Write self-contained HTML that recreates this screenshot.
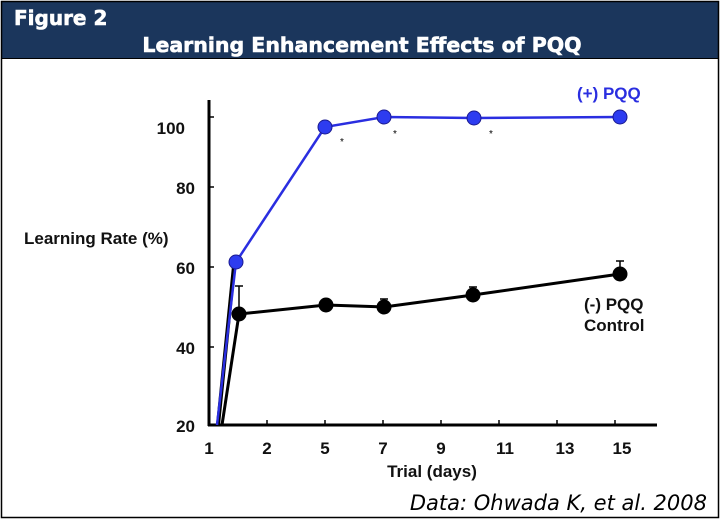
<!DOCTYPE html>
<html><head><style>
html,body{margin:0;padding:0;background:#fff;}
svg{display:block;}
</style></head><body>
<svg width="723" height="521" viewBox="0 0 723 521" xmlns="http://www.w3.org/2000/svg">
<rect x="0" y="0" width="723" height="521" fill="#fff"/>
<rect x="2" y="2" width="716" height="56" fill="#1b365c"/>
<rect x="1.5" y="1.5" width="717" height="516" fill="none" stroke="#000" stroke-width="1.5"/>
<line x1="2" y1="58.5" x2="718" y2="58.5" stroke="#000" stroke-width="1"/>
<text x="14" y="25" font-family="DejaVu Sans, sans-serif" font-weight="bold" font-size="20" fill="#fff" stroke="#fff" stroke-width="0.6">Figure 2</text>
<text x="362" y="52" text-anchor="middle" font-family="DejaVu Sans, sans-serif" font-weight="bold" font-size="20.5" fill="#fff" stroke="#fff" stroke-width="0.6">Learning Enhancement Effects of PQQ</text>

<g stroke="#000" stroke-width="3" fill="none">
<line x1="209" y1="100" x2="209" y2="426"/>
<line x1="208" y1="425" x2="657" y2="425"/>
</g>
<g stroke="#000" stroke-width="1.5">
<line x1="209" y1="117" x2="214" y2="117"/>
<line x1="209" y1="187" x2="214" y2="187"/>
<line x1="209" y1="267" x2="214" y2="267"/>
<line x1="209" y1="347" x2="214" y2="347"/>
<line x1="267" y1="425" x2="267" y2="420"/>
<line x1="325" y1="425" x2="325" y2="420"/>
<line x1="383" y1="425" x2="383" y2="420"/>
<line x1="441" y1="425" x2="441" y2="420"/>
<line x1="499" y1="425" x2="499" y2="420"/>
<line x1="557" y1="425" x2="557" y2="420"/>
<line x1="615" y1="425" x2="615" y2="420"/>
</g>
<g font-family="Liberation Sans, sans-serif" font-weight="bold" font-size="17" fill="#111" text-anchor="end">
<text x="185" y="134">100</text>
<text x="195" y="194">80</text>
<text x="195" y="274">60</text>
<text x="195" y="354">40</text>
<text x="195" y="432">20</text>
</g>
<g font-family="Liberation Sans, sans-serif" font-weight="bold" font-size="17" fill="#111" text-anchor="middle">
<text x="209" y="454">1</text>
<text x="267" y="454">2</text>
<text x="325" y="454">5</text>
<text x="383" y="454">7</text>
<text x="441" y="454">9</text>
<text x="505" y="454">11</text>
<text x="565" y="454">13</text>
<text x="622" y="454">15</text>
<text x="432" y="477">Trial (days)</text>
</g>
<text x="24" y="244" font-family="Liberation Sans, sans-serif" font-weight="bold" font-size="17" fill="#111">Learning Rate (%)</text>

<polyline points="218,425 234,266" stroke="#000" stroke-width="4" fill="none"/>
<polyline points="222,425 239,314 326,305 384,307 473,295 620,274" stroke="#000" stroke-width="3" fill="none"/>
<g stroke="#000" stroke-width="1.5">
<line x1="239" y1="314" x2="239" y2="286"/><line x1="235" y1="286" x2="243" y2="286"/>
<line x1="384" y1="307" x2="384" y2="299"/><line x1="380" y1="299" x2="388" y2="299"/>
<line x1="473" y1="295" x2="473" y2="287"/><line x1="469" y1="287" x2="477" y2="287"/>
<line x1="620" y1="274" x2="620" y2="261"/><line x1="616" y1="261" x2="624" y2="261"/>
</g>
<g fill="#000">
<circle cx="239" cy="314" r="7.5"/><circle cx="326" cy="305" r="7.5"/><circle cx="384" cy="307" r="7.5"/><circle cx="473" cy="295" r="7.5"/><circle cx="620" cy="274" r="7.5"/>
</g>
<polyline points="217,425 236,262 325,127 384,117 474,118 620,117" stroke="#2a2ee0" stroke-width="2.5" fill="none"/>
<g fill="#2d3cf0" stroke="#1a1a90" stroke-width="1">
<circle cx="236" cy="262" r="7"/><circle cx="325" cy="127" r="7"/><circle cx="384" cy="117" r="7"/><circle cx="474" cy="118" r="7"/><circle cx="620" cy="117" r="7"/>
</g>
<g font-family="Liberation Sans, sans-serif" font-size="10" fill="#000">
<text x="340" y="145">*</text><text x="393" y="137">*</text><text x="489" y="137">*</text>
</g>
<text x="577" y="99" font-family="Liberation Sans, sans-serif" font-weight="bold" font-size="17" fill="#2a2ee0">(+) PQQ</text>
<text x="584" y="310" font-family="Liberation Sans, sans-serif" font-weight="bold" font-size="17" fill="#111">(-) PQQ</text>
<text x="584" y="331" font-family="Liberation Sans, sans-serif" font-weight="bold" font-size="17" fill="#111">Control</text>
<text x="707" y="510" text-anchor="end" font-family="DejaVu Sans, sans-serif" font-style="italic" font-size="21" fill="#000">Data: Ohwada K, et al. 2008</text>
</svg>
</body></html>
